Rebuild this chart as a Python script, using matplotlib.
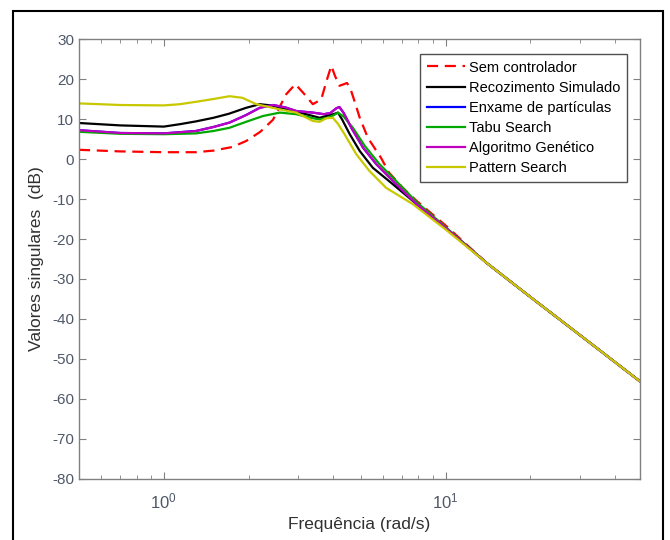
#!/usr/bin/env python3
"""Valores singulares: planta sem controlador vs. controladores otimizados."""

import matplotlib

matplotlib.use('Agg')
import matplotlib.pyplot as plt
from matplotlib.patches import Rectangle
from matplotlib.ticker import LogLocator, NullFormatter

plt.rcParams['font.family'] = ['Liberation Sans', 'DejaVu Sans']
plt.rcParams['axes.unicode_minus'] = False

# trecho comum de alta frequência (todas as curvas se sobrepõem)
TAIL_W = [14, 20, 28, 38, 49]
TAIL_DB = [-26.0, -34.5, -42.4, -49.6, -55.6]

SEM_W = [0.5, 0.7, 1.0, 1.3, 1.5, 1.75, 1.96, 2.2, 2.44, 2.72, 2.93, 3.12,
         3.38, 3.62, 3.78, 3.93, 4.05, 4.2, 4.47, 4.6, 4.75, 4.96, 5.3, 5.9,
         6.3, 7.05, 7.9, 10]
SEM_DB = [2.3, 1.9, 1.7, 1.7, 2.1, 3.0, 4.5, 6.8, 9.8, 16.2, 18.7, 16.6,
          13.7, 14.9, 19.5, 23.3, 20.8, 18.3, 19.0, 17.5, 14.5, 10.3, 5.3, 0.3,
          -3.4, -7.2, -10.5, -16.6]

REC_W = [0.5, 0.7, 1.0, 1.14, 1.3, 1.5, 1.7, 1.96, 2.19, 2.4, 2.6, 2.9, 3.2,
         3.57, 3.8, 4.0, 4.15, 4.3, 4.57, 4.96, 5.52, 6.5, 7.9, 10]
REC_DB = [9.0, 8.4, 8.1, 8.7, 9.4, 10.3, 11.3, 12.8, 13.7, 13.4, 12.8, 12.0,
          11.2, 10.3, 10.8, 11.2, 11.6, 9.8, 6.2, 2.0, -2.2, -6.3, -11.3, -17.2]

PSO_W = [0.5, 0.7, 1.0, 1.3, 1.5, 1.71, 1.96, 2.19, 2.44, 2.7, 2.95, 3.38,
         3.7, 3.9, 4.1, 4.2, 4.35, 4.63, 5.1, 5.68, 6.68, 7.9, 10]
PSO_DB = [7.2, 6.5, 6.4, 7.0, 8.0, 9.1, 11.0, 12.8, 13.5, 12.9, 12.0, 11.6,
          11.2, 11.5, 12.7, 13.0, 11.5, 7.8, 2.8, -1.3, -6.3, -11.3, -17.2]

TABU_W = [0.5, 0.7, 1.0, 1.3, 1.5, 1.71, 1.96, 2.25, 2.58, 2.95, 3.38, 3.57,
          3.8, 4.0, 4.15, 4.35, 4.69, 5.17, 5.83, 6.68, 7.9, 10]
TABU_DB = [6.8, 6.3, 6.2, 6.4, 7.0, 7.8, 9.3, 10.75, 11.6, 11.2, 10.2, 9.9,
           10.3, 10.9, 11.6, 10.6, 7.8, 3.25, -1.3, -5.5, -10.8, -17.0]

GA_W = [0.5, 0.7, 1.0, 1.3, 1.5, 1.71, 1.96, 2.19, 2.44, 2.7, 2.95, 3.38,
        3.7, 3.9, 4.1, 4.2, 4.35, 4.63, 5.1, 5.68, 6.68, 7.9, 10]
GA_DB = [7.2, 6.5, 6.4, 7.0, 8.0, 9.1, 11.0, 12.8, 13.5, 12.9, 12.0, 11.6,
         11.2, 11.5, 12.7, 13.0, 11.5, 7.8, 2.8, -1.3, -6.3, -11.3, -17.2]

PS_W = [0.5, 0.7, 1.0, 1.14, 1.3, 1.5, 1.71, 1.9, 2.13, 2.58, 2.95, 3.38,
        3.57, 3.78, 3.98, 4.15, 4.38, 4.82, 5.37, 6.15, 7.66, 10]
PS_DB = [13.9, 13.5, 13.4, 13.7, 14.3, 15.0, 15.7, 15.3, 13.7, 12.4, 11.6, 9.5,
         9.3, 10.2, 10.3, 8.8, 6.2, 1.2, -3.0, -7.2, -11.3, -17.6]

SERIES = [
    ('Sem controlador', SEM_W, SEM_DB, '#ff0000', '--'),
    ('Recozimento Simulado', REC_W, REC_DB, '#000000', '-'),
    ('Enxame de partículas', PSO_W, PSO_DB, '#0000ff', '-'),
    ('Tabu Search', TABU_W, TABU_DB, '#00a800', '-'),
    ('Algoritmo Genético', GA_W, GA_DB, '#c000c0', '-'),
    ('Pattern Search', PS_W, PS_DB, '#c8c800', '-'),
]

fig = plt.figure(figsize=(6.7, 5.4), dpi=100)
ax = fig.add_axes([79 / 670, 1 - 479 / 540, 561 / 670, 440 / 540])

for label, w, db, color, style in SERIES:
    line, = ax.plot(w + TAIL_W, db + TAIL_DB, color=color, linestyle=style,
                    linewidth=1.6, label=label)
    if style == '--':
        line.set_dashes((5, 3))

ax.set_xscale('log')
ax.set_xlim(0.5, 49)
ax.set_ylim(-80, 30)
ax.set_yticks(range(-80, 31, 10))
ax.xaxis.set_minor_locator(LogLocator(base=10, subs=range(2, 10)))
ax.xaxis.set_minor_formatter(NullFormatter())

tick_color = '#505868'
ax.tick_params(which='both', direction='in', top=True, right=True,
               color='#808080', labelcolor=tick_color, labelsize=11)
ax.tick_params(which='major', length=5)
ax.tick_params(which='minor', length=3)
ax.tick_params(axis='x', pad=9, labelsize=12)
for spine in ax.spines.values():
    spine.set_color('#808080')
    spine.set_linewidth(1.0)

ax.set_xlabel('Frequência (rad/s)', fontsize=12.5, color='#303030', labelpad=4)
ax.set_ylabel('Valores singulares  (dB)', fontsize=12.5, color='#303030',
              labelpad=6)

leg = ax.legend(loc='upper left', bbox_to_anchor=(0.608, 0.966),
                borderaxespad=0, fontsize=10.5, fancybox=False, framealpha=1,
                handlelength=2.6, handletextpad=0.3, labelspacing=0.42,
                borderpad=0.45)
leg.get_frame().set_edgecolor('#505050')
leg.get_frame().set_linewidth(1.0)

fig.patches.append(Rectangle((13 / 670, -0.05), 650 / 670, 1.05 - 11 / 540,
                             transform=fig.transFigure, fill=False,
                             edgecolor='black', linewidth=1.5))

fig.savefig('out.png', dpi=100)
plt.close(fig)
